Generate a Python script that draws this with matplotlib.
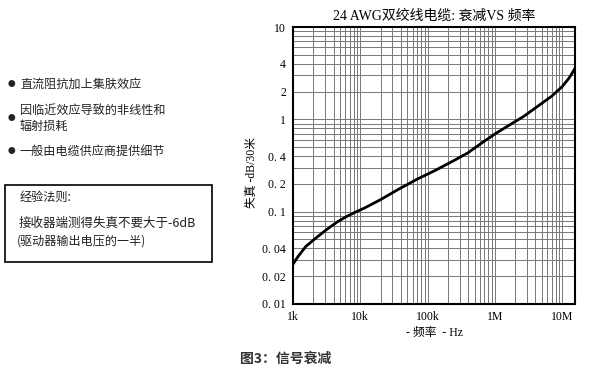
import numpy as np
import matplotlib.pyplot as plt
from matplotlib.patches import Rectangle

# attenuation curve
freq_hz = [1e3, 1.2e3, 1.55e3, 2.2e3, 3.16e3, 4.5e3, 5.8e3, 8e3, 1.17e4, 2e4, 3.6e4,
           7e4, 1.3e5, 2.5e5, 4.0e5, 6.5e5, 1.05e6, 1.7e6, 2.7e6, 4.3e6, 6.9e6,
           1.0e7, 1.26e7, 1.4e7, 1.54e7]
atten_db = [0.027, 0.033, 0.042, 0.052, 0.064, 0.077, 0.086, 0.097, 0.11, 0.135, 0.173,
            0.225, 0.28, 0.36, 0.435, 0.56, 0.71, 0.88, 1.08, 1.38, 1.77,
            2.26, 2.79, 3.15, 3.55]

x_ticks = [1e3, 1e4, 1e5, 1e6, 1e7]
x_labels = ["1k", "10k", "100k", "1M", "10M"]
y_ticks = [0.01, 0.02, 0.04, 0.1, 0.2, 0.4, 1, 2, 4, 10]
y_labels = ["0. 01", "0. 02", "0. 04", "0. 1", "0. 2", "0. 4", "1", "2", "4", "10"]

bullets = ["直流阻抗加上集肤效应", "因临近效应导致的非线性和\n辐射损耗", "一般由电缆供应商提供细节"]
bullet_y = [84, 118, 151]

serif = ["Liberation Serif", "Noto Sans CJK SC"]
sans = ["Noto Sans CJK SC", "DejaVu Sans"]
W, H = 600, 374

fig = plt.figure(figsize=(6, 3.74), dpi=100)
ax = fig.add_axes([293 / W, 1 - 304 / H, (575 - 293) / W, (304 - 27) / H])

ax.plot(freq_hz, atten_db, color="black", lw=2)
ax.set_xscale("log")
ax.set_yscale("log")
ax.set_xlim(1e3, 1.55e7)
ax.set_ylim(0.01, 10)
ax.grid(True, which="both", color="#777777", lw=0.7)
ax.set_xticks(x_ticks, x_labels, family=serif, fontsize=8.5)
ax.set_yticks(y_ticks, y_labels, family=serif, fontsize=8.5)
ax.tick_params(which="both", length=0, pad=5)
for s in ax.spines.values():
    s.set_linewidth(1.5)

ax.set_title("24 AWG双绞线电缆: 衰减VS 频率", family=serif, fontsize=10, pad=5)
ax.set_xlabel("- 频率  - Hz", family=serif, fontsize=8.5, labelpad=3)
ax.set_ylabel("失真 -dB/30米", family=serif, fontsize=8.5)
ax.yaxis.set_label_coords(-0.124, 0.475)

# left side notes
for txt, y in zip(bullets, bullet_y):
    fig.text(8 / W, 1 - y / H, "●", fontsize=5.5, va="center", color="#222222", family=sans)
    fig.text(20 / W, 1 - y / H, txt, fontsize=8.7, va="center", color="#222222",
             family=sans, linespacing=1.3)

fig.patches.append(Rectangle((5 / W, 1 - 262 / H), 207 / W, 77 / H, transform=fig.transFigure,
                             fill=False, ec="black", lw=1.2))
fig.text(20 / W, 1 - 197 / H, "经验法则:", fontsize=8.7, va="center", color="#222222", family=sans)
fig.text(19 / W, 1 - 223 / H, "接收器端测得失真不要大于-6dB", fontsize=9, va="center",
         color="#222222", family=sans)
fig.text(17 / W, 1 - 241 / H, "(驱动器输出电压的一半)", fontsize=8.7, va="center",
         color="#222222", family=sans)

fig.text(286 / W, 1 - 359 / H, "图3：信号衰减", fontsize=10, fontweight="bold",
         ha="center", va="center", color="#333333", family=sans)

fig.savefig("out.png", dpi=100)
